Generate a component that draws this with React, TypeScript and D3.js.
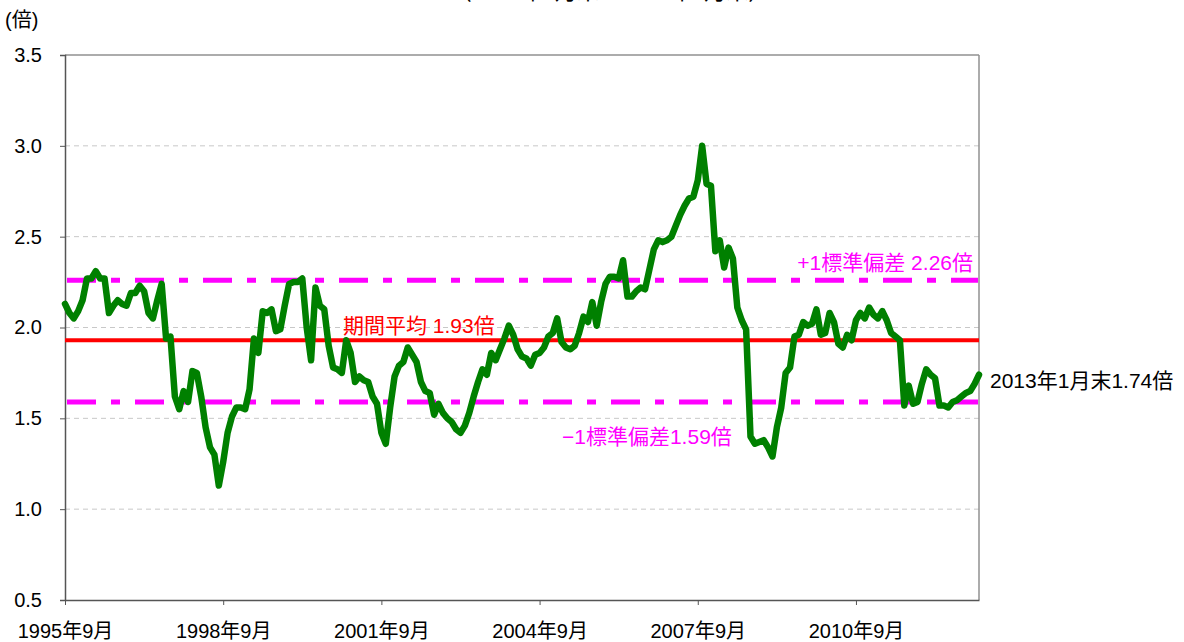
import React, { useEffect, useRef } from "react";
import * as d3 from "d3";

const startYear = 1995;
const startMonth = 9;
const values: number[] = [
  2.13, 2.08, 2.05, 2.09, 2.15, 2.27, 2.27, 2.31, 2.27, 2.27,
  2.08, 2.12, 2.15, 2.13, 2.12, 2.19, 2.19, 2.23, 2.20, 2.08,
  2.05, 2.15, 2.24, 1.94, 1.95, 1.62, 1.55, 1.65, 1.59, 1.76,
  1.75, 1.62, 1.45, 1.34, 1.30, 1.13, 1.26, 1.42, 1.51, 1.56,
  1.56, 1.55, 1.66, 1.94, 1.86, 2.09, 2.08, 2.10, 1.98, 1.99,
  2.12, 2.24, 2.25, 2.25, 2.27, 2.00, 1.82, 2.22, 2.12, 2.10,
  1.90, 1.78, 1.77, 1.75, 1.93, 1.86, 1.70, 1.73, 1.71, 1.70,
  1.62, 1.58, 1.42, 1.36, 1.56, 1.73, 1.79, 1.81, 1.89, 1.85,
  1.81, 1.70, 1.65, 1.64, 1.52, 1.58, 1.53, 1.50, 1.48, 1.44,
  1.42, 1.46, 1.53, 1.62, 1.70, 1.77, 1.74, 1.86, 1.82, 1.88,
  1.94, 2.01, 1.96, 1.88, 1.84, 1.83, 1.79, 1.85, 1.86, 1.89,
  1.95, 1.97, 2.05, 1.92, 1.89, 1.88, 1.90, 1.97, 2.06, 2.03,
  2.14, 2.01, 2.14, 2.24, 2.28, 2.28, 2.27, 2.37, 2.17, 2.17,
  2.20, 2.22, 2.21, 2.32, 2.43, 2.48, 2.47, 2.48, 2.50, 2.56,
  2.62, 2.67, 2.71, 2.72, 2.81, 3.00, 2.79, 2.78, 2.42, 2.48,
  2.33, 2.44, 2.38, 2.11, 2.04, 1.99, 1.40, 1.36, 1.37, 1.38,
  1.34, 1.29, 1.45, 1.56, 1.75, 1.78, 1.95, 1.96, 2.03, 2.01,
  2.02, 2.10, 1.96, 1.97, 2.08, 2.03, 1.91, 1.89, 1.96, 1.93,
  2.04, 2.08, 2.05, 2.11, 2.07, 2.05, 2.09, 2.04, 1.97, 1.95,
  1.93, 1.57, 1.68, 1.58, 1.59, 1.69, 1.77, 1.74, 1.72, 1.57,
  1.57, 1.56, 1.59, 1.60, 1.62, 1.64, 1.65, 1.69, 1.74,
];
const yTicks = [0.5, 1.0, 1.5, 2.0, 2.5, 3.0, 3.5];
const xTickIndex = [0, 36, 72, 108, 144, 180];
const xTickLabels = ["1995年9月", "1998年9月", "2001年9月", "2004年9月", "2007年9月", "2010年9月"];
const meanValue = 1.93;
const plusSd = 2.26;
const minusSd = 1.59;
const meanLabel = "期間平均 1.93倍";
const plusLabel = "+1標準偏差 2.26倍";
const minusLabel = "−1標準偏差1.59倍";
const endLabel = "2013年1月末1.74倍";
const unitLabel = "(倍)";
const titleText = "（1995年9月末～2013年1月末）";

const W = 1184;
const H = 642;
const FONT = "'Liberation Sans', Arial, 'Noto Sans CJK JP', sans-serif";

export default function App() {
  const ref = useRef<SVGSVGElement>(null);
  useEffect(() => {
    const svg = d3.select(ref.current);
    svg.selectAll("*").remove();
    const left = 65, right = 979, top = 55, bottom = 600;
    const x = d3.scaleLinear().domain([0, values.length - 1]).range([left, right]);
    const y = d3.scaleLinear().domain([0.5, 3.5]).range([bottom, top]);

    svg.append("rect").attr("width", W).attr("height", H).attr("fill", "#fff");

    // title (mostly above the visible area, as in the reference)
    svg.append("text").attr("x", 610).attr("y", -1).attr("text-anchor", "middle")
      .attr("font-family", FONT).attr("font-size", 22).attr("fill", "#000").text(titleText);

    // gridlines
    svg.append("g").selectAll("line").data(yTicks.filter(t => t > 0.5 && t < 3.5)).join("line")
      .attr("x1", left).attr("x2", right).attr("y1", d => y(d)).attr("y2", d => y(d))
      .attr("stroke", "#c8c8c8").attr("stroke-width", 1).attr("stroke-dasharray", "5,4");

    // frame
    svg.append("line").attr("x1", left).attr("x2", right).attr("y1", top).attr("y2", top)
      .attr("stroke", "#909090").attr("stroke-width", 1.5);
    svg.append("line").attr("x1", right).attr("x2", right).attr("y1", top).attr("y2", bottom)
      .attr("stroke", "#909090").attr("stroke-width", 1.5);

    // y axis
    const ya = svg.append("g").attr("transform", `translate(${left},0)`)
      .call(d3.axisLeft(y).tickValues(yTicks).tickFormat(d3.format(".1f")).tickSize(5));
    ya.select(".domain").attr("stroke", "#555").attr("stroke-width", 1.5);
    ya.selectAll(".tick line").attr("stroke", "#555");
    ya.selectAll("text").attr("font-family", FONT).attr("font-size", 20).attr("fill", "#000")
      .attr("x", -23);

    // x axis
    const xa = svg.append("g").attr("transform", `translate(0,${bottom})`)
      .call(d3.axisBottom(x).tickValues(xTickIndex).tickFormat((d, i) => xTickLabels[i]).tickSize(5).tickSizeOuter(0));
    xa.select(".domain").attr("stroke", "#555").attr("stroke-width", 1.5);
    xa.selectAll(".tick line").attr("stroke", "#555");
    xa.selectAll("text").attr("font-family", FONT).attr("font-size", 20).attr("fill", "#000")
      .attr("y", 24);

    // reference lines
    svg.append("line").attr("x1", left).attr("x2", right).attr("y1", y(meanValue)).attr("y2", y(meanValue))
      .attr("stroke", "#ff0000").attr("stroke-width", 4);
    [plusSd, minusSd].forEach(v => {
      svg.append("line").attr("x1", left + 2).attr("x2", right - 1).attr("y1", y(v)).attr("y2", y(v))
        .attr("stroke", "#ff00ff").attr("stroke-width", 5).attr("stroke-dasharray", "29,15,9,15");
    });

    // main line
    const line = d3.line<number>().x((d, i) => x(i)).y(d => y(d)).curve(d3.curveLinear);
    svg.append("path").datum(values).attr("d", line).attr("fill", "none")
      .attr("stroke", "#008000").attr("stroke-width", 6.5).attr("stroke-linejoin", "round").attr("stroke-linecap", "round");

    // labels
    svg.append("text").attr("x", 343).attr("y", y(meanValue) - 7).attr("font-family", FONT)
      .attr("font-size", 21).attr("fill", "#ff0000").text(meanLabel);
    svg.append("text").attr("x", 973).attr("y", y(plusSd) - 10).attr("text-anchor", "end").attr("font-family", FONT)
      .attr("font-size", 21).attr("fill", "#ff00ff").text(plusLabel);
    svg.append("text").attr("x", 562).attr("y", y(minusSd) + 42).attr("font-family", FONT)
      .attr("font-size", 21).attr("fill", "#ff00ff").text(minusLabel);
    svg.append("text").attr("x", 990).attr("y", y(values[values.length - 1]) + 13).attr("font-family", FONT)
      .attr("font-size", 21).attr("fill", "#000").text(endLabel);
    svg.append("text").attr("x", 5).attr("y", 27).attr("font-family", FONT)
      .attr("font-size", 20).attr("fill", "#000").text(unitLabel);
  }, []);
  return (
    <svg ref={ref} width={W} height={H} style={{ position: "absolute", left: 0, top: 0 }} />
  );
}
